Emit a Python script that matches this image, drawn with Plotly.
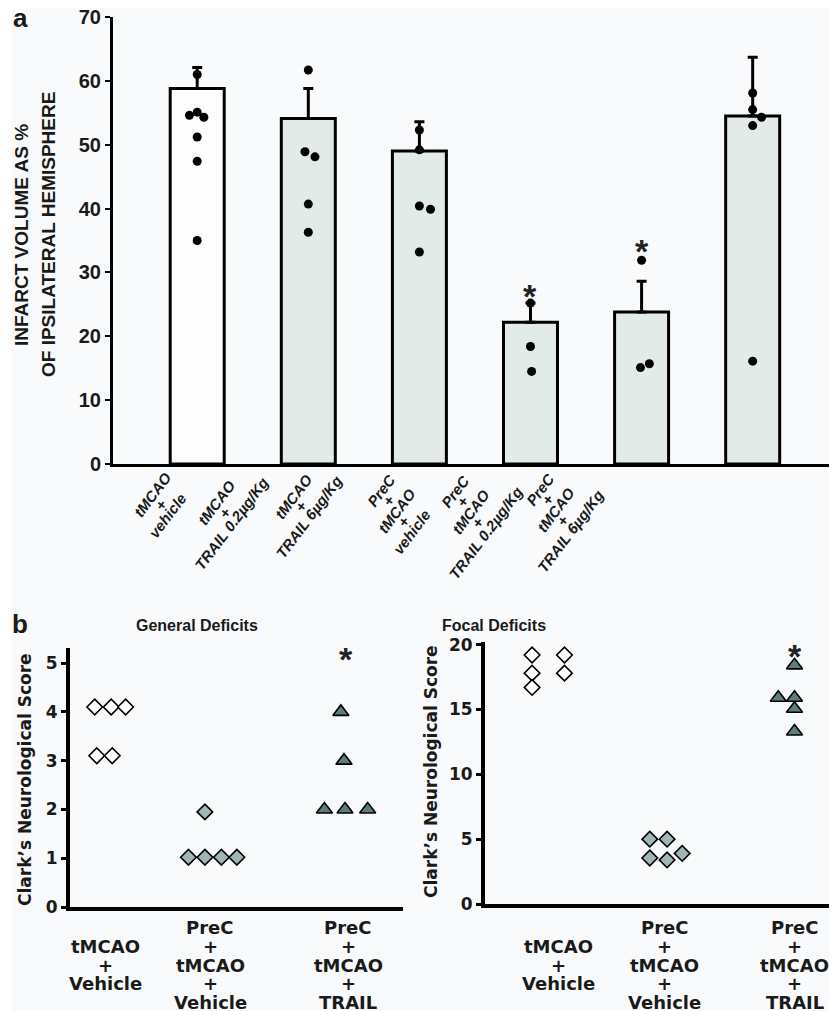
import plotly.graph_objects as go

# The page body has an 8px margin, so the figure is drawn 8px smaller and
# all pixel positions below are reference-page pixels shifted by that margin.
PAGE_W, PAGE_H = 837, 1011
BODY_MARGIN = 8
W, H = PAGE_W - BODY_MARGIN, PAGE_H - BODY_MARGIN

# ---------------- Panel a data ----------------
bar_labels = [
    "tMCAO<br>+<br>vehicle",
    "tMCAO<br>+<br>TRAIL 0.2µg/Kg",
    "tMCAO<br>+<br>TRAIL 6µg/Kg",
    "PreC<br>+<br>tMCAO<br>+<br>vehicle",
    "PreC<br>+<br>tMCAO<br>+<br>TRAIL 0.2µg/Kg",
    "PreC<br>+<br>tMCAO<br>+<br>TRAIL 6µg/Kg",
]
infarct_mean = [58.8, 54.1, 49.0, 22.2, 23.8, 54.5]
infarct_sem = [3.3, 4.7, 4.6, 3.0, 4.8, 9.2]
infarct_points = [
    [61.0, 55.1, 54.6, 54.3, 51.2, 47.4, 35.0],
    [61.7, 48.9, 48.1, 40.7, 36.3],
    [52.3, 49.2, 40.4, 39.9, 33.2],
    [25.2, 18.4, 14.5],
    [31.9, 15.7, 15.1],
    [58.1, 55.5, 54.3, 53.0, 16.1],
]
infarct_dx = [
    [0.0, 0.0, -0.07, 0.06, 0.0, 0.0, 0.0],
    [0.0, -0.03, 0.06, 0.0, 0.0],
    [0.0, 0.0, 0.0, 0.10, 0.0],
    [0.0, 0.0, 0.01],
    [0.0, 0.07, -0.01],
    [0.0, 0.0, 0.08, 0.0, 0.0],
]
star_a_index = [3, 4]
star_a_y = [27.7, 34.8]
yticks_a = [0, 10, 20, 30, 40, 50, 60, 70]

# ---------------- Panel b data ----------------
b_labels = [
    "tMCAO<br>+<br>Vehicle",
    "PreC<br>+<br>tMCAO<br>+<br>Vehicle",
    "PreC<br>+<br>tMCAO<br>+<br>TRAIL",
]
general_y = [[4.1, 4.1, 4.1, 3.1, 3.1],
             [1.95, 1.02, 1.02, 1.02, 1.02],
             [4.0, 3.0, 2.0, 2.0, 2.0]]
general_dx = [[-0.10, 0.06, 0.20, -0.08, 0.07],
              [-0.05, -0.21, -0.05, 0.11, 0.26],
              [-0.07, -0.04, -0.23, -0.03, 0.19]]
general_star = 5.27
focal_y = [[19.2, 17.8, 16.7, 19.2, 17.8],
           [5.0, 3.55, 5.0, 3.4, 3.9],
           [18.4, 15.9, 15.05, 13.3, 15.9]]
focal_dx = [[-0.24, -0.24, -0.24, 0.06, 0.06],
            [-0.14, -0.14, 0.02, 0.02, 0.16],
            [0.0, 0.0, 0.0, 0.0, -0.15]]
focal_star = 19.8
yticks_gen = [0, 1, 2, 3, 4, 5]
yticks_foc = [0, 5, 10, 15, 20]

# ---------------- layout helpers ----------------
def px_x(p):
    return (p - BODY_MARGIN) / W

def px_y(p):
    return 1 - (p - BODY_MARGIN) / H

FA = "Liberation Sans, Arial, sans-serif"
FD = "DejaVu Sans, Verdana, sans-serif"
BAR_FILLS = ["#fdfdfd"] + ["#e3ebe9"] * 5
GROUP_POS_L = [0.0, 1.02, 2.36]
GROUP_POS_R = [0.0, 0.99, 2.19]
B_STYLES = [
    dict(symbol="diamond", color="#ffffff", size=12),
    dict(symbol="diamond", color="#9fb6b3", size=12),
    dict(symbol="triangle-up", color="#5d7f7c", size=14),
]

fig = go.Figure()

# Panel a bars
xa = list(range(len(infarct_mean)))
fig.add_trace(go.Bar(
    x=xa, y=infarct_mean, width=0.486,
    marker=dict(color=BAR_FILLS, line=dict(color="black", width=3)),
    error_y=dict(type="data", symmetric=False, array=infarct_sem,
                 arrayminus=[0] * len(infarct_sem), color="black",
                 thickness=3, width=5),
    xaxis="x", yaxis="y", showlegend=False,
))
px_, py_ = [], []
for i, (pts, dxs) in enumerate(zip(infarct_points, infarct_dx)):
    for v, d in zip(pts, dxs):
        px_.append(i + d)
        py_.append(v)
fig.add_trace(go.Scatter(
    x=px_, y=py_, mode="markers",
    marker=dict(symbol="circle", size=9, color="black"),
    xaxis="x", yaxis="y", showlegend=False,
))

# Panel b points
for panel, ys, dxs, gpos, xr, yr in [
    ("L", general_y, general_dx, GROUP_POS_L, "x2", "y2"),
    ("R", focal_y, focal_dx, GROUP_POS_R, "x3", "y3"),
]:
    for g in range(3):
        st = B_STYLES[g]
        fig.add_trace(go.Scatter(
            x=[gpos[g] + d for d in dxs[g]], y=ys[g], mode="markers",
            marker=dict(symbol=st["symbol"], size=st["size"], color=st["color"],
                        line=dict(color="black", width=1.6)),
            xaxis=xr, yaxis=yr, showlegend=False,
        ))

ax_common = dict(showgrid=False, zeroline=False, showline=True,
                 linecolor="black", fixedrange=True, automargin=False)

# x-axis a: bar i centred at 197.2 + 111.1*i (px)
fig.update_layout(
    width=W, height=H, autosize=False,
    margin=dict(l=0, r=0, t=0, b=0, pad=0, autoexpand=False),
    paper_bgcolor="#f9fafb", plot_bgcolor="rgba(0,0,0,0)",
    xaxis=dict(domain=[px_x(113), 1.0], range=[-0.758, 5.759],
               anchor="y", showticklabels=False, ticks="", linewidth=3,
               **ax_common),
    yaxis=dict(domain=[px_y(464), px_y(17)], range=[0, 70], anchor="x",
               tickvals=yticks_a, ticks="outside", ticklen=5, tickwidth=2,
               tickcolor="black", linewidth=3, ticklabeloverflow="allow",
               tickfont=dict(family=FA, size=20, color="#1a1a1a", weight="bold"),
               **ax_common),
    xaxis2=dict(domain=[px_x(70), px_x(403)], range=[-0.340, 2.893],
                anchor="y2", showticklabels=False, ticks="", linewidth=4,
                **ax_common),
    yaxis2=dict(domain=[px_y(907), px_y(648)], range=[0, 5.31], anchor="x2",
                tickvals=yticks_gen, ticks="outside", ticklen=5, tickwidth=3,
                tickcolor="black", linewidth=4, ticklabeloverflow="allow",
                tickfont=dict(family=FD, size=17, color="#1a1a1a", weight="bold"),
                **ax_common),
    xaxis3=dict(domain=[px_x(485), px_x(835)], range=[-0.676, 2.565],
                anchor="y3", showticklabels=False, ticks="", linewidth=4,
                **ax_common),
    yaxis3=dict(domain=[px_y(904), px_y(642)], range=[0, 20.2], anchor="x3",
                tickvals=yticks_foc, ticks="outside", ticklen=5, tickwidth=3,
                tickcolor="black", linewidth=4, ticklabeloverflow="allow",
                tickfont=dict(family=FD, size=17, color="#1a1a1a", weight="bold"),
                **ax_common),
)

# white strip on the far left, like the reference page edge
fig.add_shape(type="rect", xref="paper", yref="paper",
              x0=0, x1=px_x(12), y0=0, y1=1,
              fillcolor="white", line=dict(width=0), layer="below")

ann = []
# panel letters
ann.append(dict(text="<b>a</b>", x=px_x(20), y=px_y(18), xref="paper", yref="paper",
                showarrow=False, font=dict(family=FA, size=26, color="#1a1a1a"),
                xanchor="center", yanchor="middle"))
ann.append(dict(text="<b>b</b>", x=px_x(20), y=px_y(624), xref="paper", yref="paper",
                showarrow=False, font=dict(family=FA, size=26, color="#1a1a1a"),
                xanchor="center", yanchor="middle"))

# Panel a y title (two lines)
for txt, cx in [("INFARCT VOLUME AS %", 21), ("OF IPSILATERAL HEMISPHERE", 48)]:
    ann.append(dict(text="<b>" + txt + "</b>", x=px_x(cx), y=px_y(235),
                    xref="paper", yref="paper", textangle=-90, showarrow=False,
                    font=dict(family=FA, size=19, color="#1a1a1a"),
                    xanchor="center", yanchor="middle"))

# Panel a bar labels (rotated, one annotation per line)
LABEL_CENTERS_A = [(160, 505), (224, 513), (301, 507), (396, 511), (470, 512), (555, 510)]
LINE_STEP_A = (7.5, 10.5)
for lab, (cx, cy) in zip(bar_labels, LABEL_CENTERS_A):
    lines = lab.split("<br>")
    n = len(lines)
    for k, ln in enumerate(lines):
        off = k - (n - 1) / 2
        lx = cx + off * LINE_STEP_A[0]
        ly = cy + off * LINE_STEP_A[1]
        ann.append(dict(text="<b><i>" + ln + "</i></b>", x=px_x(lx), y=px_y(ly),
                        xref="paper", yref="paper", textangle=-53, showarrow=False,
                        font=dict(family=FA, size=15, color="#1a1a1a"),
                        xanchor="center", yanchor="middle"))

# stars panel a
for i, sy in zip(star_a_index, star_a_y):
    ann.append(dict(text="<b>*</b>", x=i, y=sy, xref="x", yref="y", showarrow=False,
                    font=dict(family=FA, size=34, color="#222"),
                    xanchor="center", yanchor="middle", yshift=-9))

# Panel b titles
ann.append(dict(text="<b>General Deficits</b>", x=px_x(197), y=px_y(625),
                xref="paper", yref="paper", showarrow=False,
                font=dict(family=FA, size=16, color="#1a1a1a"),
                xanchor="center", yanchor="middle"))
ann.append(dict(text="<b>Focal Deficits</b>", x=px_x(494), y=px_y(625),
                xref="paper", yref="paper", showarrow=False,
                font=dict(family=FA, size=16, color="#1a1a1a"),
                xanchor="center", yanchor="middle"))

# Panel b y titles
for cx, cy in [(25, 780), (431, 772)]:
    ann.append(dict(text="<b>Clark’s Neurological Score</b>", x=px_x(cx), y=px_y(cy),
                    xref="paper", yref="paper", textangle=-90, showarrow=False,
                    font=dict(family=FD, size=17, color="#1a1a1a"),
                    xanchor="center", yanchor="middle"))

# stars panel b
ann.append(dict(text="<b>*</b>", x=GROUP_POS_L[2] - 0.02, y=general_star, xref="x2", yref="y2",
                showarrow=False, font=dict(family=FA, size=34, color="#222"),
                xanchor="center", yanchor="middle", yshift=-9))
ann.append(dict(text="<b>*</b>", x=GROUP_POS_R[2], y=focal_star, xref="x3", yref="y3",
                showarrow=False, font=dict(family=FA, size=34, color="#222"),
                xanchor="center", yanchor="middle", yshift=-9))

# Panel b group labels, one annotation per line for tight spacing
LINE_SP = 18.7
MID_Y = 965
for xr, gpos in [("x2", GROUP_POS_L), ("x3", GROUP_POS_R)]:
    for g, lab in enumerate(b_labels):
        lines = lab.split("<br>")
        n = len(lines)
        for k, ln in enumerate(lines):
            py = MID_Y + (k - (n - 1) / 2) * LINE_SP
            ann.append(dict(text="<b>" + ln + "</b>", x=gpos[g], y=px_y(py),
                            xref=xr, yref="paper", showarrow=False,
                            font=dict(family=FD, size=18, color="#1a1a1a"),
                            xanchor="center", yanchor="middle"))

fig.update_layout(annotations=ann)
fig.write_html("out.html")
